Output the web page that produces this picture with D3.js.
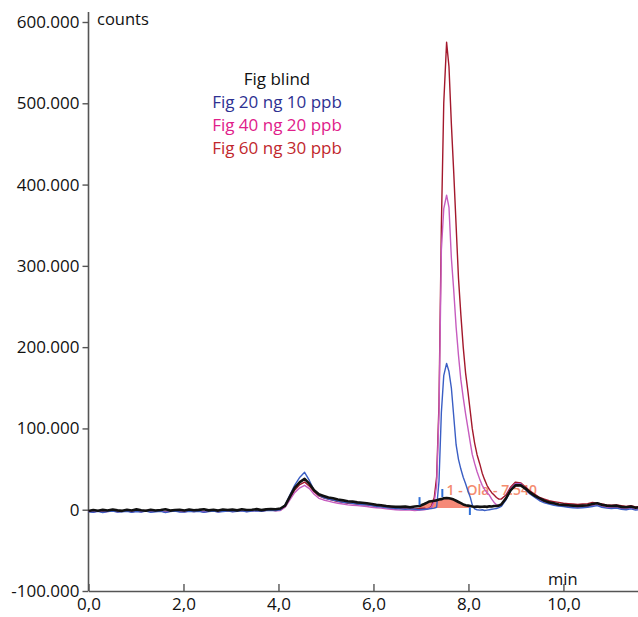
<!DOCTYPE html>
<html>
<head>
<meta charset="utf-8">
<script src="https://cdn.jsdelivr.net/npm/d3@7"></script>
<style>
  body { margin: 0; background: #fff; }
  svg { display: block; font-family: "Open Sans", sans-serif; }
</style>
</head>
<body>
<div id="chart"></div>
<script>
// retention time (min)
var times = [
  0.0, 0.1, 0.2, 0.3, 0.4, 0.51, 0.61, 0.71, 0.81, 0.91,
  1.01, 1.11, 1.21, 1.31, 1.41, 1.52, 1.62, 1.72, 1.82, 1.92,
  2.02, 2.12, 2.22, 2.32, 2.43, 2.53, 2.63, 2.73, 2.83, 2.93,
  3.03, 3.13, 3.23, 3.33, 3.44, 3.54, 3.64, 3.74, 3.84, 3.94,
  4.04, 4.14, 4.24, 4.34, 4.45, 4.55, 4.65, 4.75, 4.85, 4.95,
  5.05, 5.15, 5.25, 5.36, 5.46, 5.56, 5.66, 5.76, 5.86, 5.96,
  6.06, 6.16, 6.27, 6.37, 6.47, 6.57, 6.67, 6.77, 6.87, 6.97, 7.07,
  7.12, 7.17, 7.22, 7.28, 7.33, 7.38, 7.43, 7.48, 7.54, 7.59,
  7.64, 7.69, 7.74, 7.79, 7.84, 7.89, 7.94, 7.99, 8.04, 8.08,
  8.13, 8.18, 8.24, 8.29, 8.34, 8.39, 8.44, 8.49, 8.54, 8.59, 8.64, 8.69,
  8.79, 8.89, 8.99, 9.1, 9.2, 9.3, 9.4, 9.5, 9.6, 9.7,
  9.8, 9.9, 10.0, 10.1, 10.2, 10.3, 10.4, 10.51, 10.61, 10.71,
  10.81, 10.91, 11.01, 11.12, 11.22, 11.32, 11.42, 11.52, 11.62
];

// counts in thousands, one value per entry of times
var blind = [
  -1.5, -0.4, -1.2, -0.2, -1.0, 0.3, -0.8, -1.4, -0.1, -0.9,
  0.4, -0.6, -1.3, 0.0, -0.9, -0.3, 0.5, -1.1, -0.4, -0.1,
  -1.0, 0.2, -0.7, -0.2, 0.6, -0.8, -0.1, -1.1, 0.3, -0.4,
  0.1, -0.8, 0.5, -0.3, 0.0, 0.7, -0.5, 0.4, 0.9, 0.6,
  1.5, 5, 16, 27, 34, 38, 32, 24, 19, 17,
  15, 14, 12.5, 11.5, 10.5, 10, 9, 8.5, 8, 7,
  6, 5.5, 4.5, 4, 3.5, 3.5, 4, 3, 4, 4.5, 7,
  8.5, 10, 10.5, 11, 11.5, 12.5, 13, 14, 14.5, 14,
  13.5, 12.5, 11, 9.5, 8, 6.5, 5.5, 5, 4.5, 4,
  3.5, 4, 3.5, 3.7, 4, 3.5, 4.2, 4, 4.5, 4.5, 5, 6.5,
  14, 24, 30, 30, 26, 21, 17, 14, 11, 9,
  8, 6.5, 6, 5.5, 5, 4.5, 5, 5.5, 7, 8,
  6, 5, 4.5, 5, 3.5, 3, 4, 2.5, 3
];

var ng20 = [
  -2.5, -3.2, -2.0, -3.5, -2.4, -1.8, -3.0, -2.6, -1.9, -3.3,
  -2.2, -2.9, -1.7, -3.1, -2.5, -2.0, -3.4, -2.3, -1.6, -2.8,
  -3.0, -2.1, -2.7, -1.9, -3.2, -2.4, -1.8, -2.9, -2.2, -1.5,
  -2.6, -2.0, -1.4, -2.7, -1.8, -1.2, -2.1, -1.0, -0.6, -1.1,
  0, 6, 18, 30, 40, 46, 36, 24, 18, 15,
  13, 12, 10.5, 9, 8.5, 8, 7, 6.5, 6, 5,
  4, 3.5, 2.5, 2, 1.5, 1, 0.5, 1, 0.5, 0, 0.5,
  0.5, 1, 1.5, 2, 3, 35, 120, 165, 180, 170,
  150, 115, 80, 62, 50, 40, 32, 23, 15, 6,
  1, 0, -0.5, 0, -1, -0.5, 0, 0.5, 1, 1.5, 2.5, 4,
  12, 24, 31, 31, 25, 19, 15, 11, 8.5, 7,
  5.5, 4.5, 4, 3, 2.5, 2, 2.5, 3, 4, 5,
  3, 2, 1.5, 2, 0.5, 0, 1, -0.5, 0
];

var ng40 = [
  -2.0, -2.8, -1.6, -3.0, -2.2, -1.4, -2.6, -2.0, -1.3, -2.9,
  -1.8, -2.5, -1.2, -2.7, -2.1, -1.5, -3.0, -1.9, -1.1, -2.4,
  -2.6, -1.6, -2.3, -1.4, -2.8, -2.0, -1.3, -2.5, -1.8, -1.1,
  -2.2, -1.6, -1.0, -2.3, -1.4, -0.9, -1.8, -0.8, -0.5, -1.2,
  -1, 3, 12, 21, 27, 30, 26, 19, 14, 12,
  10.5, 9, 8, 7, 6, 5.5, 5, 4.5, 4, 3,
  2.5, 2, 1, 0.5, 0, -0.5, 0, -0.5, -1, -0.5, 0,
  0.5, 1.5, 3, 10, 30, 120, 320, 370, 387, 372,
  310, 270, 225, 190, 160, 138, 118, 100, 82, 68,
  57, 47, 37, 30, 25, 21, 18, 13, 9, 6, 5, 6,
  14, 26, 32, 32, 26, 20, 16, 12, 9.5, 8,
  6.5, 5.5, 5, 4, 3.5, 3, 3.5, 4, 5, 6,
  4, 3, 2.5, 3, 1.5, 1, 2, 0.5, 1
];

var ng60 = [
  -1.8, -2.5, -1.4, -2.7, -2.0, -1.2, -2.3, -1.8, -1.0, -2.6,
  -1.5, -2.2, -1.0, -2.4, -1.8, -1.3, -2.7, -1.6, -0.9, -2.1,
  -2.3, -1.4, -2.0, -1.2, -2.5, -1.7, -1.1, -2.2, -1.5, -0.9,
  -1.9, -1.3, -0.8, -2.0, -1.2, -0.7, -1.5, -0.6, -0.3, -0.9,
  -0.5, 4, 14, 24, 31, 34, 29, 22, 17, 14.5,
  13, 11.5, 10, 9, 8, 7.5, 7, 6.5, 6, 5,
  4.5, 4, 3, 2.5, 2, 1.5, 2, 1.5, 1, 1.5, 2,
  1, 2, 4, 15, 40, 130, 350, 500, 575, 545,
  475, 415, 350, 285, 240, 200, 168, 145, 120, 100,
  82, 68, 56, 45, 37, 30, 25, 21, 18, 15, 13, 13,
  18, 28, 34, 33, 28, 23, 19, 15, 13, 11,
  10, 9, 8, 7.5, 7, 6.5, 7, 7.5, 9, 8,
  7, 6, 5.5, 6, 5, 4, 5, 3.5, 4
];

var seriesNames = ["Fig blind", "Fig 20 ng 10 ppb", "Fig 40 ng 20 ppb", "Fig 60 ng 30 ppb"];
var yTicks = [-100, 0, 100, 200, 300, 400, 500, 600];
var xTicks = [0, 2, 4, 6, 8, 10];

// integrated peak of the blind trace
var peakStart = 6.97;
var peakEnd = 8.04;
var peakBase = 2;
var peakLabel = "1 - Ola - 7.540";
var peakLabelPos = [7.54, 18];
// integration markers: time, low, high (thousands)
var markers = [[6.97, 5.5, 15.5], [7.45, 15.5, 25.5], [8.03, -6.5, 3]];

var svgWidth = 638;
var svgHeight = 617;

var svg = d3.select("#chart")
  .append("svg")
  .attr("width", svgWidth)
  .attr("height", svgHeight);

var xScale = d3.scaleLinear()
  .domain([0, 11.57])
  .range([88.5, 638]);

var yScale = d3.scaleLinear()
  .domain([-100, 600])
  .range([591, 22]);

var locale = d3.formatLocale({decimal: ",", thousands: ".", grouping: [3], currency: ["", ""], minus: "-"});
var fmtY = locale.format(",");
var fmtX = locale.format(".1f");

// y axis
var yAxis = d3.axisLeft(yScale)
  .tickValues(yTicks)
  .tickSizeOuter(0)
  .tickSize(6)
  .tickPadding(3)
  .tickFormat(d => fmtY(d * 1000));

var yG = svg.append("g")
  .attr("transform", "translate(88.5,0)")
  .call(yAxis);
yG.select(".domain").remove();
yG.append("line")
  .attr("y1", 12)
  .attr("y2", yScale(-100))
  .attr("stroke", "#555")
  .attr("stroke-width", 1.6);

// x axis, ticks pointing up
var xAxis = d3.axisBottom(xScale)
  .tickValues(xTicks)
  .tickSizeInner(-7)
  .tickSizeOuter(0)
  .tickPadding(7)
  .tickFormat(fmtX);

var xG = svg.append("g")
  .attr("transform", `translate(0,${yScale(-100)})`)
  .call(xAxis);

svg.selectAll(".tick text")
  .attr("font-size", "17px")
  .attr("font-family", "Open Sans, sans-serif")
  .attr("fill", "#111");
svg.selectAll(".tick line").attr("stroke", "#555").attr("stroke-width", 1.4);
xG.select(".domain").attr("stroke", "#555").attr("stroke-width", 1.6);

svg.append("text")
  .attr("x", 97)
  .attr("y", 25)
  .attr("font-size", "16.5px")
  .attr("fill", "#111")
  .text("counts");

svg.append("text")
  .attr("x", 548)
  .attr("y", 585)
  .attr("font-size", "16.5px")
  .attr("fill", "#111")
  .text("min");

// build rows
var rows = times.map(function(t, i) {
  return {t: t, blind: blind[i], ng20: ng20[i], ng40: ng40[i], ng60: ng60[i]};
});

// shaded integration area under the blind trace
var areaRows = rows.filter(d => d.t >= peakStart && d.t <= peakEnd);
svg.append("path")
  .datum(areaRows)
  .attr("fill", "#f47c68")
  .attr("opacity", 0.9)
  .attr("d", d3.area()
    .x(d => xScale(d.t))
    .y0(yScale(peakBase))
    .y1(d => yScale(d.blind)));

svg.append("text")
  .attr("x", xScale(peakLabelPos[0]))
  .attr("y", yScale(peakLabelPos[1]))
  .attr("font-size", "14px")
  .attr("font-weight", 600)
  .attr("fill", "#f3805f")
  .attr("opacity", 0.9)
  .text(peakLabel);

var traces = [
  {key: "ng60", color: "#a3182c", width: 1.4},
  {key: "ng40", color: "#c65cbf", width: 1.4},
  {key: "ng20", color: "#3a5ec4", width: 1.4},
  {key: "blind", color: "#111111", width: 2.6}
];

traces.forEach(function(s) {
  svg.append("path")
    .datum(rows)
    .attr("fill", "none")
    .attr("stroke", s.color)
    .attr("stroke-width", s.width)
    .attr("stroke-linejoin", "round")
    .attr("d", d3.line()
      .x(d => xScale(d.t))
      .y(d => yScale(d[s.key])));
});

// integration markers
svg.selectAll(".marker")
  .data(markers)
  .enter()
  .append("line")
  .attr("class", "marker")
  .attr("x1", d => xScale(d[0]))
  .attr("x2", d => xScale(d[0]))
  .attr("y1", d => yScale(d[1]))
  .attr("y2", d => yScale(d[2]))
  .attr("stroke", "#2f6fd6")
  .attr("stroke-width", 2);

// legend
var legendColors = ["#111111", "#2e3192", "#e0208a", "#c1272d"];
svg.selectAll(".legend")
  .data(seriesNames)
  .enter()
  .append("text")
  .attr("class", "legend")
  .attr("x", 277)
  .attr("y", (d, i) => 85 + i * 23)
  .attr("text-anchor", "middle")
  .attr("font-size", "17px")
  .attr("fill", (d, i) => legendColors[i])
  .text(d => d);
</script>
</body>
</html>
